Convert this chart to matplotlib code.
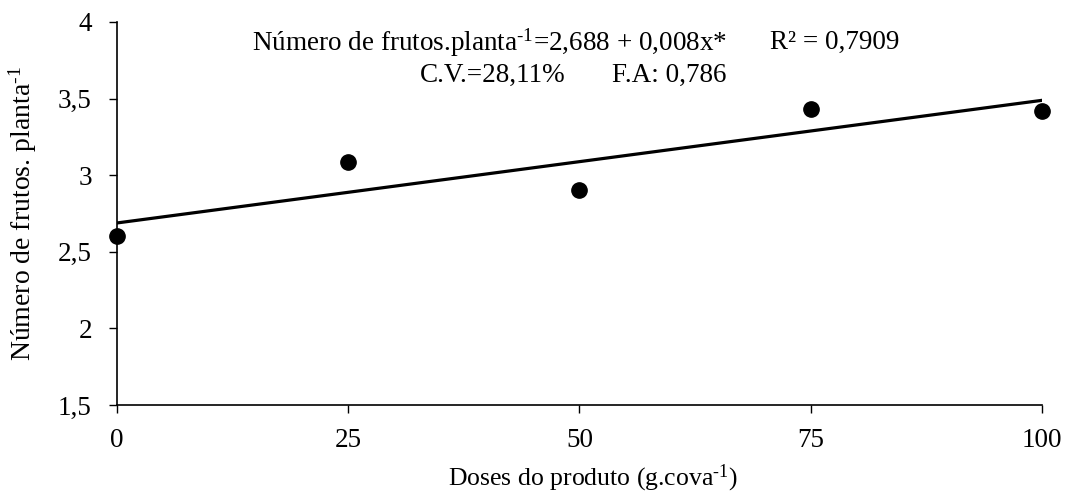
import matplotlib
matplotlib.use("Agg")
import matplotlib.pyplot as plt
import numpy as np

# dados
doses = [0, 25, 50, 75, 100]
frutos = [2.60, 3.085, 2.90, 3.43, 3.42]
intercepto = 2.688
inclinacao = 0.008
xticks = [0, 25, 50, 75, 100]
yticks = [1.5, 2.0, 2.5, 3.0, 3.5, 4.0]
ytick_labels = ["1,5", "2", "2,5", "3", "3,5", "4"]

plt.rcParams["font.family"] = ["Liberation Serif", "DejaVu Serif"]
plt.rcParams["mathtext.fontset"] = "custom"
plt.rcParams["mathtext.rm"] = "Liberation Serif"
plt.rcParams["mathtext.it"] = "Liberation Serif:italic"

fs = 19.5
fig = plt.figure(figsize=(10.73, 4.97), dpi=100)
ax = fig.add_axes([0.109, 0.185, 0.862, 0.771])

xl = np.array([doses[0], doses[-1]])
ax.plot(xl, intercepto + inclinacao * xl, color="black", lw=2.3, zorder=2)
ax.plot(doses, frutos, "o", color="black", ms=11, clip_on=False, zorder=3)

ax.set_xlim(0, 100)
ax.set_ylim(1.5, 4)
ax.set_xticks(xticks)
ax.set_xticklabels([str(t) for t in xticks])
ax.set_yticks(yticks)
ax.set_yticklabels(ytick_labels)
ax.tick_params(axis="both", direction="out", length=6, width=1, labelsize=fs)
ax.tick_params(axis="x", pad=10.5)
ax.tick_params(axis="y", pad=12)
for s in ("top", "right"):
    ax.spines[s].set_visible(False)
for s in ("left", "bottom"):
    ax.spines[s].set_linewidth(1.2)

ax.set_xlabel(r"Doses do produto (g.cova$^{\text{-1}}$)", fontsize=18.5, labelpad=7)
ax.xaxis.label.set_x(0.515)
ax.set_ylabel(r"Número de frutos. planta$^{\text{-1}}$", fontsize=20, labelpad=14)

# equação e estatísticas
ax.text(14.6, 3.863, r"Número de frutos.planta$^{\text{-1}}$=2,688 + 0,008x*", fontsize=fs, ha="left", va="center")
ax.text(70.6, 3.863, "R² = 0,7909", fontsize=fs, ha="left", va="center")
ax.text(32.8, 3.648, "C.V.=28,11%", fontsize=fs, ha="left", va="center")
ax.text(53.5, 3.648, "F.A: 0,786", fontsize=fs, ha="left", va="center")

fig.savefig("out.png", dpi=100)
